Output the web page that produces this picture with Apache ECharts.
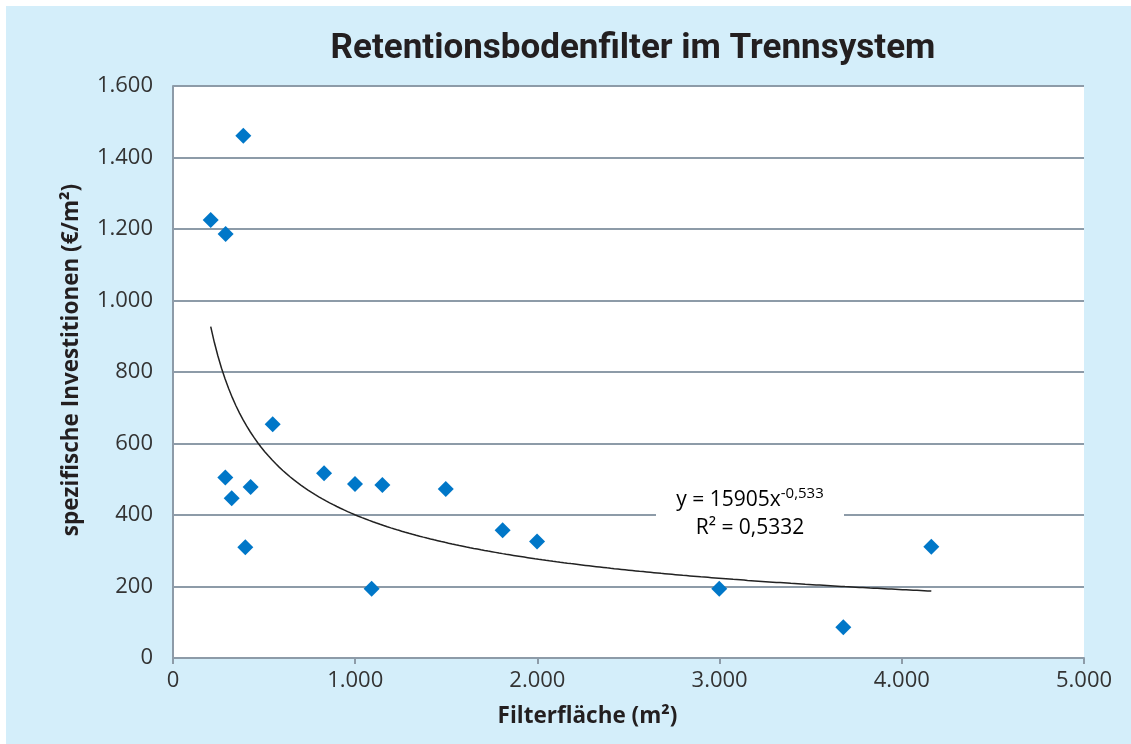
<!DOCTYPE html>
<html><head><meta charset="utf-8">
<script src="https://cdn.jsdelivr.net/npm/echarts@6/dist/echarts.min.js"></script>
<style>html,body{margin:0;padding:0;background:#fff}#c{width:1131px;height:744px}</style>
</head><body><div id="c"></div>
<script>
const title = 'Retentionsbodenfilter im Trennsystem';
const xName = 'Filterfläche (m²)';
const yName = 'spezifische Investitionen (€/m²)';
const xValues = [386, 207, 289, 547, 287, 322, 426, 397, 829, 999, 1149, 1497, 1090, 1809, 1998, 2998, 3679, 4162];
const yValues = [1461, 1225, 1186, 654, 505, 447, 478, 310, 517, 487, 484, 473, 194, 357, 326, 194, 86, 311];
const fitA = 15905, fitB = -0.533, fitR2 = '0,5332';
const fitXStart = 207, fitXEnd = 4162;

const pts = xValues.map((x, i) => [x, yValues[i]]);
const trend = [];
for (let k = 0; k <= 200; k++) {
  const x = fitXStart + (fitXEnd - fitXStart) * k / 200;
  trend.push([x, fitA * Math.pow(x, fitB)]);
}
const fmt = v => String(v).replace(/\B(?=(\d{3})+(?!\d))/g, '.');
const chart = echarts.init(document.getElementById('c'));
const lineCol = '#8d9ba8';
chart.setOption({
  animation: false,
  graphic: [
    { type: 'rect', z: -10, shape: { x: 6, y: 6, width: 1125, height: 738 }, style: { fill: '#d4eefa' } },
    { type: 'rect', z: 5, shape: { x: 656, y: 489, width: 188, height: 52 }, style: { fill: '#ffffff' } },
    { type: 'text', z: 6, x: 750, y: 514, style: {
        text: '{a|y = ' + fitA + 'x}{s|' + String(fitB).replace('.', ',') + '}\n{a|R² = ' + fitR2 + '}',
        align: 'center', verticalAlign: 'middle',
        rich: { a: { fontFamily: 'Open Sans', fontSize: 21, color: '#333', lineHeight: 28 },
                s: { fontFamily: 'Open Sans', fontSize: 15, color: '#333', verticalAlign: 'top', padding: [0,0,14,0], lineHeight: 28 } }
      } }
  ],
  title: { text: title, left: 628, top: 27, textAlign: 'center',
    textStyle: { fontFamily: 'Roboto', fontWeight: 'bold', fontSize: 35, color: '#231f20' } },
  grid: { left: 173, right: 47, top: 86, bottom: 86, backgroundColor: '#fff', show: true, borderWidth: 0 },
  xAxis: { type: 'value', min: 0, max: 5000, interval: 1000,
    name: xName, nameLocation: 'middle', nameGap: 47,
    nameTextStyle: { fontFamily: 'Open Sans', fontWeight: 'bold', fontSize: 22.5, color: '#231f20', padding: [0, 82, 0, 0] },
    axisLine: { lineStyle: { color: lineCol, width: 2 } },
    axisTick: { show: true, length: 6, lineStyle: { color: lineCol, width: 2 } },
    splitLine: { show: false },
    axisLabel: { margin: 12, fontFamily: 'Open Sans', fontSize: 22, color: '#333', formatter: fmt } },
  yAxis: { type: 'value', min: 0, max: 1600, interval: 200,
    name: yName, nameLocation: 'middle', nameGap: 90, nameRotate: 90,
    nameTextStyle: { fontFamily: 'Open Sans', fontWeight: 'bold', fontSize: 22.5, color: '#231f20', padding: [0, 0, 0, 24] },
    axisLine: { show: true, lineStyle: { color: lineCol, width: 2 } },
    axisTick: { show: false },
    splitLine: { lineStyle: { color: lineCol, width: 2 } },
    axisLabel: { margin: 20, fontFamily: 'Open Sans', fontSize: 22, color: '#333', formatter: fmt } },
  series: [
    { type: 'line', data: trend, showSymbol: false, z: 3, lineStyle: { color: '#222', width: 1.5 } },
    { type: 'scatter', data: pts, symbol: 'diamond', symbolSize: 16, z: 4, itemStyle: { color: '#0077c8', opacity: 1 } }
  ]
});
</script></body></html>
